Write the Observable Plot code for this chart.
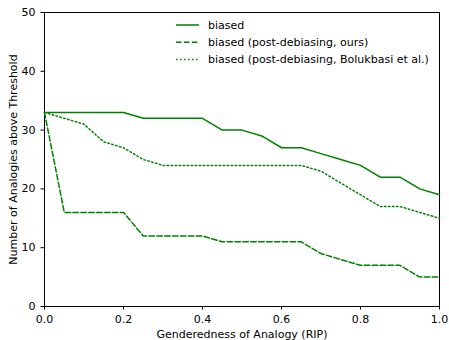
<!DOCTYPE html>
<html><head><meta charset="utf-8">
<script src="https://cdn.jsdelivr.net/npm/d3@7"></script>
<script src="https://cdn.jsdelivr.net/npm/@observablehq/plot@0.6"></script>
<style>body{margin:0;background:#fff;font-family:"DejaVu Sans",sans-serif;}</style>
</head><body><div id="chart"></div>
<script>
const xs = [0,0.05,0.1,0.15,0.2,0.25,0.3,0.35,0.4,0.45,0.5,0.55,0.6,0.65,0.7,0.75,0.8,0.85,0.9,0.95,1.0];
const biased =        [33,33,33,33,33,32,32,32,32,30,30,29,27,27,26,25,24,22,22,20,19];
const biasedOurs =    [33,16,16,16,16,12,12,12,12,11,11,11,11,11,9,8,7,7,7,5,5];
const biasedBolukbasi=[33,32,31,28,27,25,24,24,24,24,24,24,24,24,23,21,19,17,17,16,15];
const seriesNames = ["biased","biased (post-debiasing, ours)","biased (post-debiasing, Bolukbasi et al.)"];
const xTicks = [0,0.2,0.4,0.6,0.8,1.0];
const yTicks = [0,10,20,30,40,50];

const dashes = [null, "5.5,2.4", "1.5,2.5"];
const color = "#008000";
const allSeries = [biased, biasedOurs, biasedBolukbasi];
const rows = [];
allSeries.forEach((s,k)=>s.forEach((v,i)=>rows.push({x:xs[i], y:v, s:seriesNames[k], k})));

const marks = [Plot.frame({stroke:"#000", strokeWidth:1})];
allSeries.forEach((s,k)=>{
  marks.push(Plot.line(rows.filter(r=>r.k===k), {x:"x", y:"y", stroke:color, strokeWidth:1.5, strokeDasharray:dashes[k]}));
});

const plot = Plot.plot({
  width:449, height:340,
  marginLeft:44, marginRight:10, marginTop:12, marginBottom:34,
  style:{fontFamily:"DejaVu Sans", fontSize:"11px", color:"#000", background:"#fff"},
  x:{domain:[0,1], ticks:xTicks, tickFormat:d3.format(".1f"), label:"Genderedness of Analogy (RIP)", labelAnchor:"center", labelArrow:"none", labelOffset:31, tickSize:3.5},
  y:{domain:[0,50], ticks:yTicks, label:"Number of Analogies above Threshold", labelAnchor:"center", labelArrow:"none", labelOffset:35, tickSize:3.5},
  marks
});
document.getElementById("chart").appendChild(plot);

// legend
const svg = d3.select(plot);
const lg = svg.append("g").attr("text-anchor","start");
seriesNames.forEach((n,k)=>{
  const y = 25 + k*17.2;
  lg.append("line").attr("x1",176).attr("x2",199).attr("y1",y).attr("y2",y)
    .attr("stroke",color).attr("stroke-width",1.5).attr("stroke-dasharray",dashes[k]);
  lg.append("text").attr("x",208).attr("y",y).attr("dy","0.35em").attr("text-anchor","start")
    .attr("font-size",11).attr("font-family","DejaVu Sans").attr("fill","#000").text(n);
});
</script></body></html>
